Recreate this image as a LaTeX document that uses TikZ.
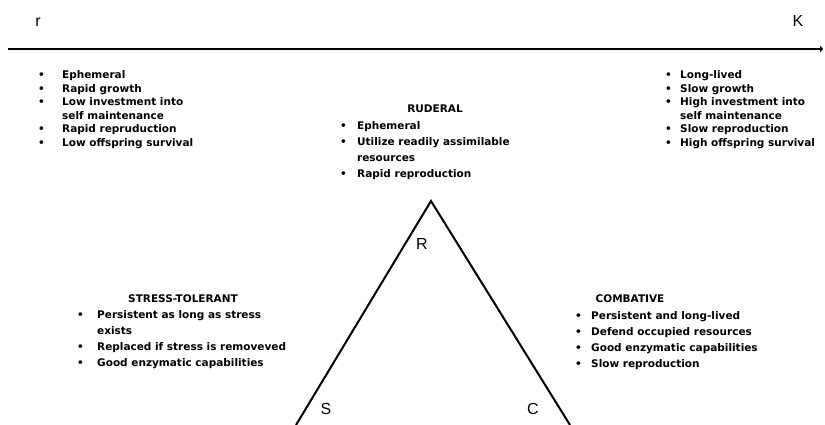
\documentclass[tikz,border=0pt]{standalone}
\usepackage{fontspec}
\setmainfont{DejaVu Sans}
\newfontfamily\arfont{Liberation Sans}
\usetikzlibrary{arrows.meta}
\newlength\bw
\setlength\bw{20pt}
\newcommand\bl{\makebox[\bw][l]{•}}
\newcommand\cont{\hspace{\bw}}
\begin{document}
\begin{tikzpicture}[x=1pt,y=-1pt,
  lst/.style={anchor=base west, inner sep=0pt, font=\fontsize{10.5}{13.5}\selectfont\bfseries},
  lstb/.style={anchor=base west, inner sep=0pt, font=\fontsize{10.5}{16}\selectfont\bfseries},
  head/.style={anchor=base, inner sep=0pt, font=\fontsize{10.5}{13}\selectfont\bfseries},
  corner/.style={anchor=base, inner sep=0pt, font=\arfont\fontsize{16}{16}\selectfont},
  axisline/.style={line width=2.8pt, -{Triangle[length=3pt,width=7pt]}},
  triline/.style={line width=2pt}]
\useasboundingbox (0,0) rectangle (825,425);
% axis
\coordinate (a0) at (8,49);
\coordinate (a1) at (823,49);
\draw[axisline] (a0) -- (a1);
\node[corner] (r) at (38,27) {r};
\node[corner] (K) at (798,27) {K};
% top left block
\node[lst] (rlist) at (38,79) {\setlength\bw{24pt}\begin{tabular}[t]{@{}l@{}}
\bl Ephemeral\\
\bl Rapid growth\\
\bl Low investment into\\
\cont self maintenance\\
\bl Rapid repruduction\\
\bl Low offspring survival
\end{tabular}};
% top right block
\node[lst] (klist) at (665,79) {\setlength\bw{15pt}\begin{tabular}[t]{@{}l@{}}
\bl Long-lived\\
\bl Slow growth\\
\bl High investment into\\
\cont self maintenance\\
\bl Slow reproduction\\
\bl High offspring survival
\end{tabular}};
% ruderal
\node[head] (rudh) at (435,113) {RUDERAL};
\node[lstb] (rudl) at (340,130) {\setlength\bw{17pt}\begin{tabular}[t]{@{}l@{}}
\bl Ephemeral\\
\bl Utilize readily assimilable\\
\cont resources\\
\bl Rapid reproduction
\end{tabular}};
% stress tolerant
\node[head] (sth) at (183,302) {STRESS-TOLERANT};
\node[lstb] (stl) at (77,318) {\setlength\bw{20pt}\begin{tabular}[t]{@{}l@{}}
\bl Persistent as long as stress\\
\cont exists\\
\bl Replaced if stress is removeved\\
\bl Good enzymatic capabilities
\end{tabular}};
% combative
\node[head] (coh) at (630,302) {COMBATIVE};
\node[lstb] (col) at (575,319) {\setlength\bw{16pt}\begin{tabular}[t]{@{}l@{}}
\bl Persistent and long-lived\\
\bl Defend occupied resources\\
\bl Good enzymatic capabilities\\
\bl Slow reproduction
\end{tabular}};
% triangle
\coordinate (apex) at (431,201);
\coordinate (sb) at (296,425);
\coordinate (cb) at (570,425);
\draw[triline] (sb) -- (apex) -- (cb);
\node[corner] (R) at (422,249) {R};
\node[corner] (S) at (326,414) {S};
\node[corner] (C) at (533,414) {C};
\end{tikzpicture}
\end{document}
